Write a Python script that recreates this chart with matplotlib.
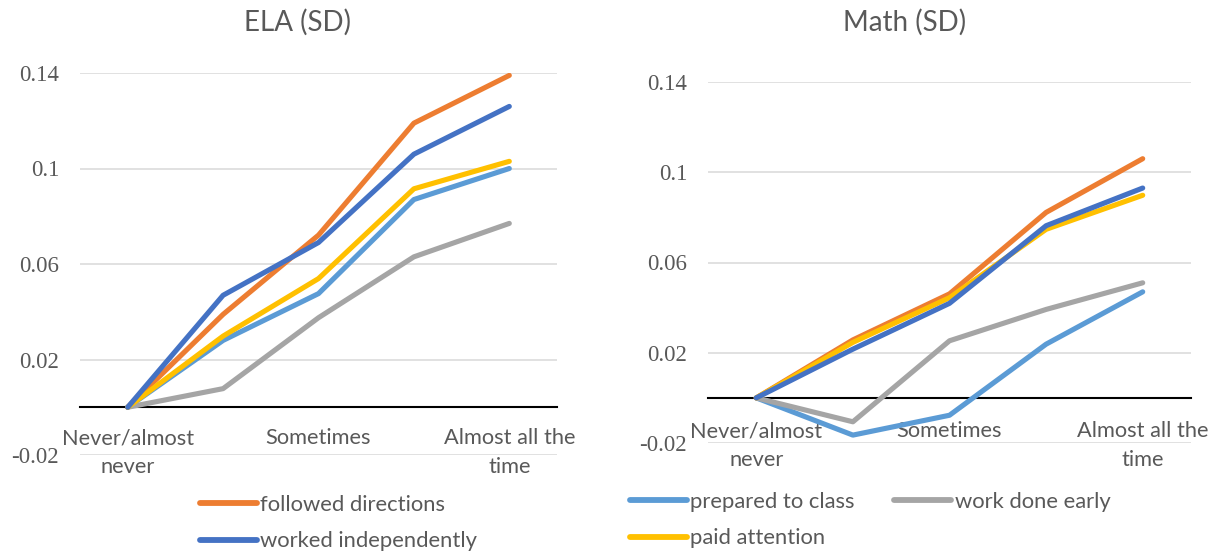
import matplotlib
matplotlib.use("Agg")
import matplotlib.pyplot as plt
from matplotlib.lines import Line2D

# Response categories (only every other one is labelled on the axis)
categories = ["Never/almost\nnever", "", "Sometimes", "", "Almost all the\ntime"]

# Series names and colours
series_names = ["prepared to class", "followed directions", "work done early",
                "paid attention", "worked independently"]
series_colors = ["#5B9BD5", "#ED7D31", "#A5A5A5", "#FFC000", "#4472C4"]

# ELA effect sizes (SD) per category
ela_prepared = [0.0, 0.028, 0.0476, 0.087, 0.100]
ela_followed = [0.0, 0.0389, 0.0721, 0.119, 0.139]
ela_early = [0.0, 0.0078, 0.0375, 0.063, 0.077]
ela_attention = [0.0, 0.0298, 0.0539, 0.0915, 0.103]
ela_independent = [0.0, 0.0469, 0.069, 0.106, 0.126]

# Math effect sizes (SD) per category
math_prepared = [0.0, -0.0165, -0.0077, 0.0238, 0.047]
math_followed = [0.0, 0.0257, 0.0461, 0.0822, 0.106]
math_early = [0.0, -0.0106, 0.0253, 0.0392, 0.051]
math_attention = [0.0, 0.0246, 0.0444, 0.0747, 0.0898]
math_independent = [0.0, 0.0216, 0.0419, 0.0763, 0.093]

y_ticks = [-0.02, 0.02, 0.06, 0.1, 0.14]
y_tick_labels = ["-0.02", "0.02", "0.06", "0.1", "0.14"]

TEXT = "#595959"
GRID = "#D9D9D9"
W, H = 1222, 554

fig = plt.figure(figsize=(W / 100, H / 100), dpi=100)


def px_axes(x0, x1, ytop, ybot):
    return fig.add_axes([x0 / W, 1 - ybot / H, (x1 - x0) / W, (ybot - ytop) / H])


def draw_panel(ax, title, data, xcenter_px, xpad):
    ax.set_xlim(-0.5, len(categories) - 0.5)
    ax.set_ylim(-0.02, 0.14)
    for y in y_ticks:
        ax.axhline(y, color=GRID, lw=1.1, zorder=0)
    x = list(range(len(categories)))
    for vals, color in zip(data, series_colors):
        ax.plot(x, vals, color=color, lw=3.7, solid_capstyle="round",
                solid_joinstyle="round", zorder=3)
    for s in ["top", "right", "left"]:
        ax.spines[s].set_visible(False)
    ax.spines["bottom"].set_position(("data", 0))
    ax.spines["bottom"].set_color("black")
    ax.spines["bottom"].set_linewidth(1.5)
    ax.spines["bottom"].set_zorder(2)
    ax.set_xticks([0, 2, 4])
    ax.set_xticklabels([categories[0], categories[2], categories[4]],
                       fontfamily="Lato", fontsize=15.7, color=TEXT,
                       linespacing=1.55)
    ax.tick_params(axis="x", length=0, pad=xpad)
    ax.set_yticks(y_ticks)
    ax.set_yticklabels(y_tick_labels, fontfamily="Liberation Serif",
                       fontsize=16.5, color=TEXT)
    ax.tick_params(axis="y", length=0, pad=15)
    fig.text(xcenter_px / W, 1 - 22 / H, title, fontfamily="Lato",
             fontsize=20, color=TEXT, ha="center", va="center")


ax1 = px_axes(80, 557, 73, 455)
draw_panel(ax1, "ELA (SD)",
           [ela_prepared, ela_followed, ela_early, ela_attention, ela_independent],
           298, 15)

ax2 = px_axes(708, 1191, 82, 443)
draw_panel(ax2, "Math (SD)",
           [math_prepared, math_followed, math_early, math_attention, math_independent],
           905, 17)


def handle(i):
    return Line2D([], [], color=series_colors[i], lw=4.2, solid_capstyle="round")


leg_kw = dict(frameon=False, prop={"family": "Lato", "size": 15.8},
              labelcolor=TEXT, handlelength=2.6, handletextpad=0.15,
              borderaxespad=0, borderpad=0, labelspacing=0.75)

fig.legend([handle(1), handle(4)], [series_names[1], series_names[4]],
           loc="upper left", bbox_to_anchor=(200 / W, 1 - 495 / H), **leg_kw)

fig.legend([handle(0), handle(3), handle(2)],
           [series_names[0], series_names[3], series_names[2]],
           loc="upper left", bbox_to_anchor=(630 / W, 1 - 492 / H), ncol=2,
           columnspacing=1.8, **leg_kw)

fig.savefig("out.png", dpi=100)
